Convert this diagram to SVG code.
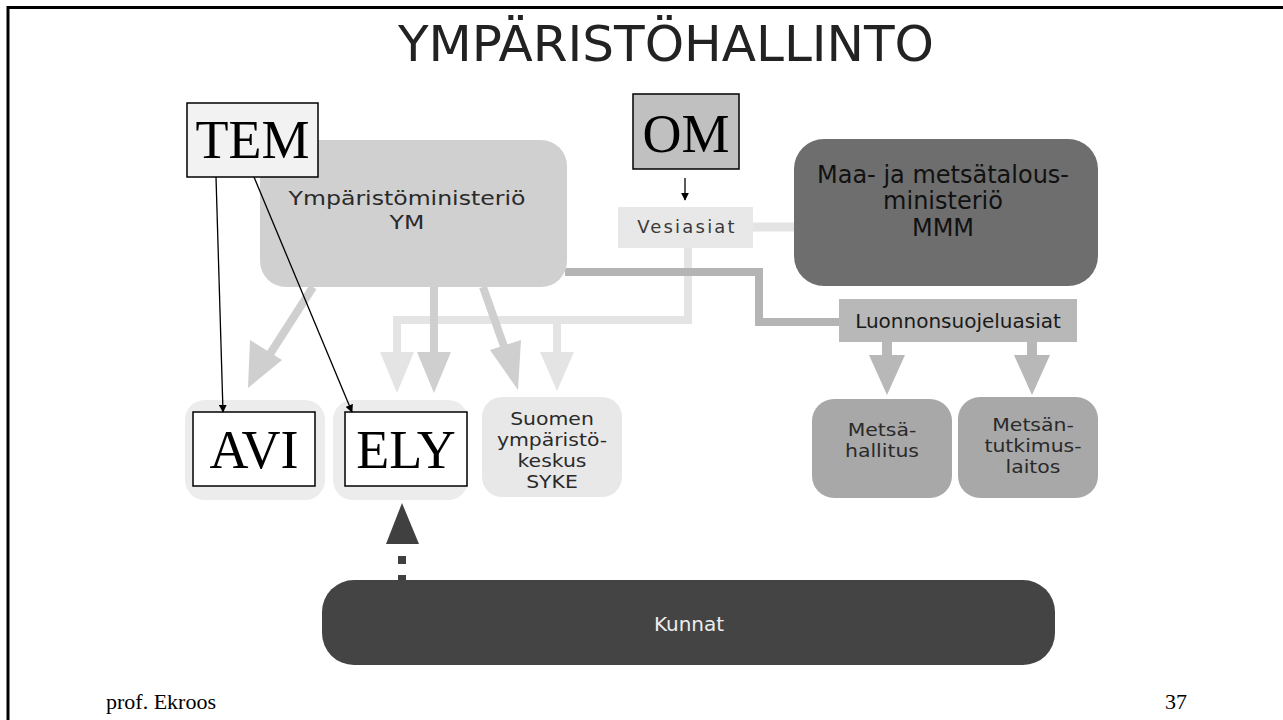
<svg xmlns="http://www.w3.org/2000/svg" width="1283" height="720" viewBox="0 0 1283 720">
<style>
.sans{font-family:"DejaVu Sans","Verdana",sans-serif;text-anchor:middle}
.serif{font-family:"Liberation Serif","Times New Roman",serif;text-anchor:middle;fill:#000}
.big{font-size:54px}
.lbl{font-size:17px;fill:#2a2a2a}
.thin{stroke:#000;stroke-width:1.3;fill:none}
</style>
<defs>
<marker id="ah" viewBox="0 0 10 10" refX="9" refY="5" markerWidth="8" markerHeight="8" markerUnits="userSpaceOnUse" orient="auto">
<path d="M0,0 L10,5 L0,10 z" fill="#000"/>
</marker>
</defs>
<rect width="1283" height="720" fill="#fff"/>
<!-- slide frame -->
<path d="M8,720 V7.5 H1283" fill="none" stroke="#000" stroke-width="3"/>
<text x="398" y="61" font-family="DejaVu Sans Condensed, DejaVu Sans, sans-serif" font-size="50" fill="#222" textLength="536" lengthAdjust="spacingAndGlyphs">YMPÄRISTÖHALLINTO</text>

<g id="connectors">
  <!-- Vesiasiat to MMM -->
  <path d="M753,227 H796" stroke="#e4e4e4" stroke-width="9" fill="none"/>
  <!-- Vesiasiat branch -->
  <path d="M688,248 V320 H397 V355 M557,320 V355" stroke="#e4e4e4" stroke-width="8" fill="none"/>
  <polygon points="380,352 414,352 397,393" fill="#e4e4e4"/>
  <polygon points="540,352 574,352 557,391" fill="#e4e4e4"/>
  <!-- YM to Luonnonsuojeluasiat -->
  <path d="M565,272 H759 V322 H841" stroke="#b4b4b4" stroke-width="8" fill="none"/>
  <!-- YM arrows -->
  <path d="M313,287 L270,354" stroke="#cfcfcf" stroke-width="8" fill="none"/>
  <polygon points="250,340 282,360 248,388" fill="#cfcfcf"/>
  <path d="M434,287 V355" stroke="#cfcfcf" stroke-width="8" fill="none"/>
  <polygon points="417,352 451,352 434,393" fill="#cfcfcf"/>
  <path d="M483,287 L506,352" stroke="#cfcfcf" stroke-width="8" fill="none"/>
  <polygon points="490,350 521,340 518,390" fill="#cfcfcf"/>
  <!-- Luonnonsuojeluasiat arrows -->
  <path d="M887,342 V358 M1032,342 V358" stroke="#b8b8b8" stroke-width="10" fill="none"/>
  <polygon points="869,355 905,355 887,395" fill="#b8b8b8"/>
  <polygon points="1014,355 1050,355 1032,395" fill="#b8b8b8"/>
  <!-- Kunnat dashed arrow -->
  <polygon points="386,544 419,544 402,503" fill="#404040"/>
  <path d="M402,556 V564 M402,575 V582" stroke="#404040" stroke-width="8" fill="none"/>
</g>

<g id="ym">
  <rect x="260" y="140" width="307" height="147" rx="26" fill="#d0d0d0"/>
  <g transform="translate(407,0) scale(1.18,1)">
    <text x="0" y="205" class="sans" font-size="20" fill="#2a2a2a">Ympäristöministeriö</text>
    <text x="0" y="229" class="sans" font-size="20" fill="#2a2a2a">YM</text>
  </g>
</g>
<g id="tem">
  <rect x="187" y="103" width="131" height="74" fill="#f2f2f2" stroke="#000" stroke-width="1.5"/>
  <text x="252.5" y="158" class="serif big">TEM</text>
</g>
<g id="om">
  <rect x="633" y="94" width="106" height="75" fill="#c0c0c0" stroke="#000" stroke-width="1.5"/>
  <text x="686" y="152" class="serif big">OM</text>
</g>
<g id="vesiasiat">
  <rect x="618" y="207" width="135" height="41" fill="#e8e8e8"/>
  <text x="687" y="233" class="sans" font-size="18" letter-spacing="2.2" fill="#3a3a3a">Vesiasiat</text>
</g>
<g id="mmm">
  <rect x="794" y="139" width="304" height="147" rx="30" fill="#6e6e6e"/>
  <text x="943" y="183" class="sans" font-size="24" fill="#111">Maa- ja metsätalous-</text>
  <text x="943" y="209" class="sans" font-size="24" fill="#111">ministeriö</text>
  <text x="943" y="236" class="sans" font-size="24" fill="#111">MMM</text>
</g>
<g id="luonnonsuojeluasiat">
  <rect x="839" y="299" width="238" height="43" fill="#b8b8b8"/>
  <text x="958" y="328" class="sans" font-size="20" fill="#1a1a1a">Luonnonsuojeluasiat</text>
</g>
<g id="box-avi-bg">
  <rect x="185" y="400" width="140" height="100" rx="20" fill="#ececec"/>
</g>
<g id="box-ely-bg">
  <rect x="333" y="400" width="135" height="100" rx="20" fill="#ececec"/>
</g>
<g id="syke">
  <rect x="482" y="397" width="140" height="100" rx="20" fill="#e8e8e8"/>
  <g transform="translate(552,0) scale(1.2,1)">
    <text x="0" y="425" class="sans lbl">Suomen</text>
    <text x="0" y="446" class="sans lbl">ympäristö-</text>
    <text x="0" y="467" class="sans lbl">keskus</text>
    <text x="0" y="488" class="sans lbl">SYKE</text>
  </g>
</g>
<g id="metsahallitus">
  <rect x="812" y="399" width="140" height="99" rx="22" fill="#a8a8a8"/>
  <g transform="translate(882,0) scale(1.2,1)">
    <text x="0" y="436" class="sans lbl">Metsä-</text>
    <text x="0" y="457" class="sans lbl">hallitus</text>
  </g>
</g>
<g id="metla">
  <rect x="958" y="397" width="140" height="101" rx="22" fill="#a8a8a8"/>
  <g transform="translate(1033,0) scale(1.2,1)">
    <text x="0" y="431" class="sans lbl">Metsän-</text>
    <text x="0" y="452" class="sans lbl">tutkimus-</text>
    <text x="0" y="473" class="sans lbl">laitos</text>
  </g>
</g>
<g id="avi">
  <rect x="193" y="412" width="122" height="74" fill="#fff" stroke="#000" stroke-width="1.5"/>
  <text x="254" y="468" class="serif big">AVI</text>
</g>
<g id="ely">
  <rect x="345" y="412" width="122" height="74" fill="#fff" stroke="#000" stroke-width="1.5"/>
  <text x="406" y="468" class="serif big">ELY</text>
</g>
<g id="kunnat">
  <rect x="322" y="580" width="733" height="85" rx="32" fill="#444"/>
  <text x="689" y="631" class="sans" font-size="20" fill="#eee">Kunnat</text>
</g>
<g id="connectors-overlay">
  <path d="M685,178 V200" class="thin" marker-end="url(#ah)"/>
  <path d="M216,177 L223,412" class="thin" marker-end="url(#ah)"/>
  <path d="M254,177 L352,412" class="thin" marker-end="url(#ah)"/>
</g>
<text x="106" y="709" font-family="Liberation Serif, serif" font-size="22" fill="#000">prof. Ekroos</text>
<text x="1165" y="709" font-family="Liberation Serif, serif" font-size="22" fill="#000">37</text>
</svg>
